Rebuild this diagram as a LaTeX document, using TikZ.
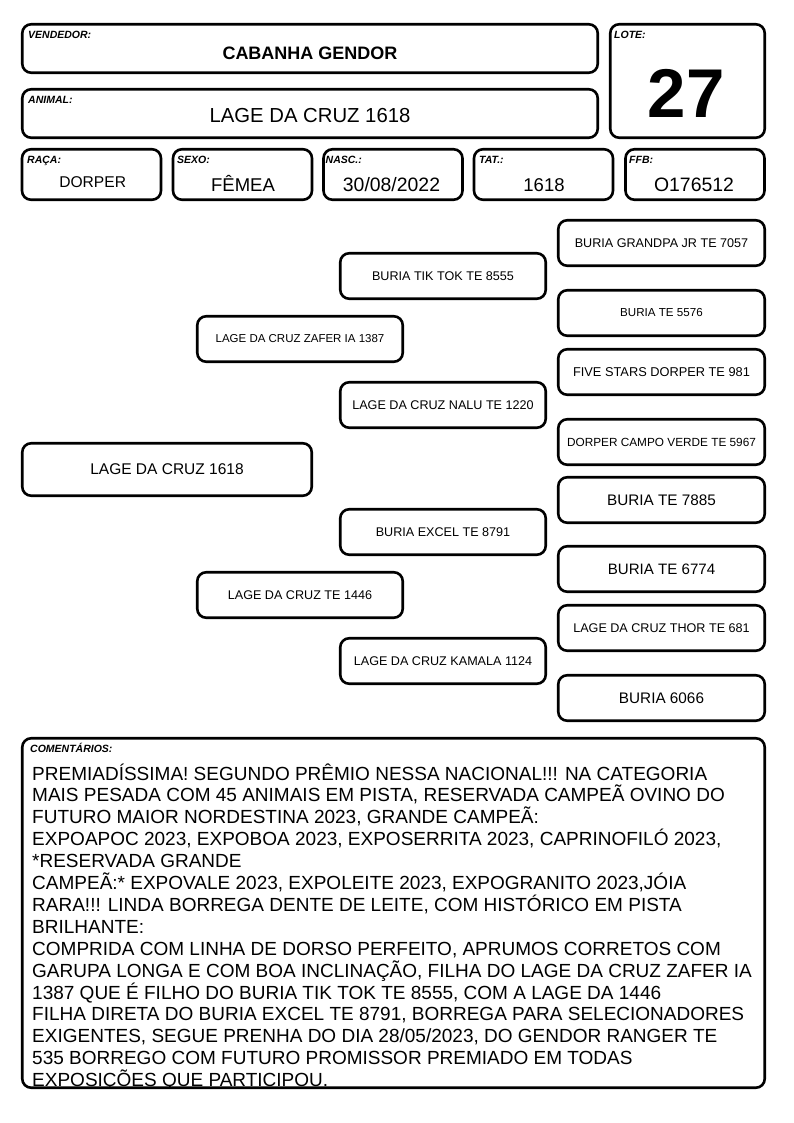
\documentclass[tikz,border=0pt]{standalone}
\usepackage{fontspec}
\setmainfont{Liberation Sans}
\begin{document}
\begin{tikzpicture}[
		x=1pt, y=-1pt,
		card/.style={draw, line width=2.6pt, rounded corners=9pt, inner sep=0pt},
		tag/.style={anchor=base west, inner sep=0pt, font=\fontsize{10.5}{12}\selectfont\bfseries\itshape},
		val/.style={anchor=base, inner sep=0pt, font=\fontsize{18.5}{22}\selectfont},
		cell/.style={card, minimum width=139pt, minimum height=50.5pt},
		pedi/.style={card, minimum width=205.5pt, minimum height=45.5pt, font=\fontsize{12.6}{15}\selectfont},
		leaf/.style={pedi, minimum width=206.5pt}
	]
	\useasboundingbox (0,0) rectangle (794,1123);

	% Header boxes
	\node[card, minimum width=575.5pt, minimum height=48.5pt] (vend) at (310,48.5) {};
	\node[card, minimum width=575.5pt, minimum height=48.5pt] (anim) at (310,113.5) {};
	\node[card, minimum width=154.5pt, minimum height=113.5pt] (lote) at (687.5,81) {};
	\node[cell] (raca) at (91.5,174.5) {};
	\node[cell] (sexo) at (242.5,174.5) {};
	\node[cell] (nasc) at (393,174.5) {};
	\node[cell] (tat) at (543.5,174.5) {};
	\node[cell] (ffb) at (695,174.5) {};

	% Labels
	\node[tag] (vendl) at (28,39) {VENDEDOR:};
	\node[tag] (animl) at (28,103.3) {ANIMAL:};
	\node[tag] (lotel) at (614,39) {LOTE:};
	\node[tag] (racal) at (27,163.5) {RAÇA:};
	\node[tag] (sexol) at (177,164) {SEXO:};
	\node[tag] (nascl) at (325.5,164) {NASC.:};
	\node[tag] (tatl) at (479,164) {TAT.:};
	\node[tag] (ffbl) at (629,164) {FFB:};

	% Values
	\node[val, font=\fontsize{18}{22}\selectfont\bfseries] (vendv) at (310,60) {CABANHA GENDOR};
	\node[val, font=\fontsize{20.3}{24}\selectfont] (animv) at (310,123) {LAGE DA CRUZ 1618};
	\node[val, font=\fontsize{69}{80}\selectfont\bfseries] (lotev) at (686,118) {27};
	\node[val, font=\fontsize{15.6}{18}\selectfont] (racav) at (92.7,188) {DORPER};
	\node[val] (sexov) at (243,192) {FÊMEA};
	\node[val, font=\fontsize{19.4}{22}\selectfont] (nascv) at (391.5,192) {30/08/2022};
	\node[val] (tatv) at (544,192) {1618};
	\node[val, font=\fontsize{19.4}{22}\selectfont] (ffbv) at (694,192) {O176512};

	% Pedigree
	\node[card, minimum width=289.5pt, minimum height=52.5pt, font=\fontsize{15.5}{18}\selectfont] (self) at (167,469.5) {LAGE DA CRUZ 1618};

	\node[pedi, font=\fontsize{11.5}{14}\selectfont] (sire) at (300,339) {LAGE DA CRUZ ZAFER IA 1387};
	\node[pedi] (dam) at (300,595) {LAGE DA CRUZ TE 1446};

	\node[pedi] (ss) at (443,276) {BURIA TIK TOK TE 8555};
	\node[pedi] (sd) at (443,405) {LAGE DA CRUZ NALU TE 1220};
	\node[pedi] (ds) at (443,532) {BURIA EXCEL TE 8791};
	\node[pedi] (dd) at (443,661) {LAGE DA CRUZ KAMALA 1124};

	\node[leaf] (sss) at (661.5,243) {BURIA GRANDPA JR TE 7057};
	\node[leaf, font=\fontsize{11.6}{14}\selectfont] (ssd) at (661.5,313) {BURIA TE 5576};
	\node[leaf, font=\fontsize{12.8}{15}\selectfont] (sds) at (661.5,372) {FIVE STARS DORPER TE 981};
	\node[leaf, font=\fontsize{11.8}{14}\selectfont] (sdd) at (661.5,442) {DORPER CAMPO VERDE TE 5967};
	\node[leaf, font=\fontsize{15.3}{18}\selectfont] (dss) at (661.5,500) {BURIA TE 7885};
	\node[leaf, font=\fontsize{15.1}{18}\selectfont] (dsd) at (661.5,569) {BURIA TE 6774};
	\node[leaf] (dds) at (661.5,628) {LAGE DA CRUZ THOR TE 681};
	\node[leaf, font=\fontsize{15.3}{18}\selectfont] (ddd) at (661.5,698) {BURIA 6066};

	% Comments
	\begin{scope}
		\clip (22,738) rectangle (765,1087.5);
		\node[anchor=base west, inner sep=0pt, align=left, font=\fontsize{19}{21.9}\selectfont] (comv) at (32,1086.6) {%
			PREMIADÍSSIMA! SEGUNDO PRÊMIO NESSA NACIONAL!!! NA CATEGORIA\\
			MAIS PESADA COM 45 ANIMAIS EM PISTA, RESERVADA CAMPEÃ OVINO DO\\
			FUTURO MAIOR NORDESTINA 2023, GRANDE CAMPEÃ:\\
			EXPOAPOC 2023, EXPOBOA 2023, EXPOSERRITA 2023, CAPRINOFILÓ 2023,\\
			*RESERVADA GRANDE\\
			CAMPEÃ:* EXPOVALE 2023, EXPOLEITE 2023, EXPOGRANITO 2023,JÓIA\\
			RARA!!! LINDA BORREGA DENTE DE LEITE, COM HISTÓRICO EM PISTA\\
			BRILHANTE:\\
			COMPRIDA COM LINHA DE DORSO PERFEITO, APRUMOS CORRETOS COM\\
			GARUPA LONGA E COM BOA INCLINAÇÃO, FILHA DO LAGE DA CRUZ ZAFER IA\\
			1387 QUE É FILHO DO BURIA TIK TOK TE 8555, COM A LAGE DA 1446\\
			FILHA DIRETA DO BURIA EXCEL TE 8791, BORREGA PARA SELECIONADORES\\
			EXIGENTES, SEGUE PRENHA DO DIA 28/05/2023, DO GENDOR RANGER TE\\
			535 BORREGO COM FUTURO PROMISSOR PREMIADO EM TODAS\\
			EXPOSIÇÕES QUE PARTICIPOU.};
	\end{scope}
	\node[card, minimum width=742.5pt, minimum height=349.5pt] (com) at (393.5,913) {};
	\node[tag] (coml) at (30,752.7) {COMENTÁRIOS:};
\end{tikzpicture}
\end{document}
